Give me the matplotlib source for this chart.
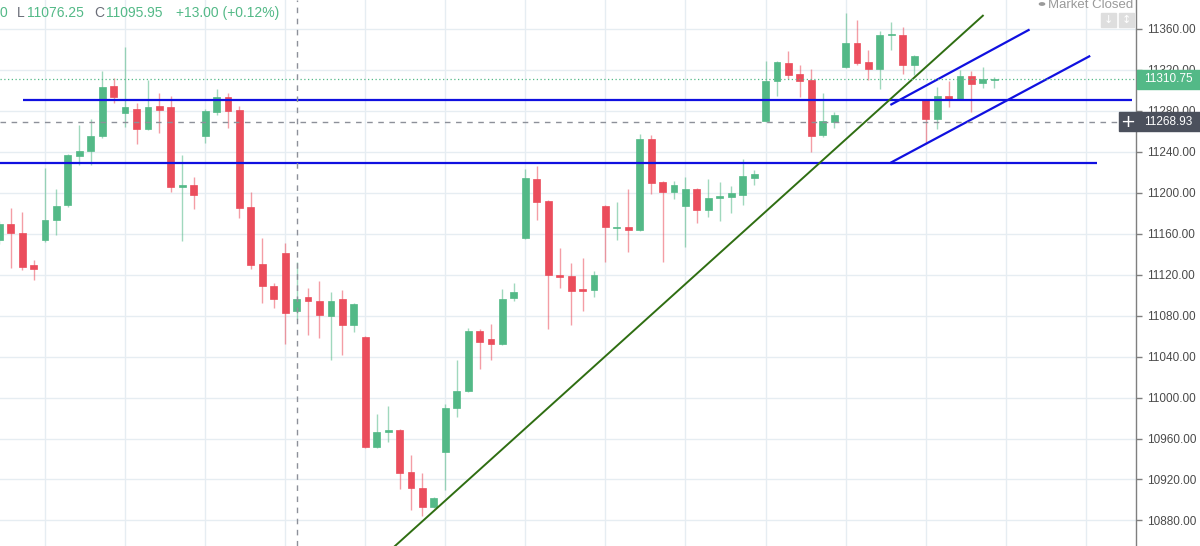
import matplotlib
matplotlib.use('Agg')
import matplotlib.pyplot as plt
from matplotlib.patches import Rectangle, Circle

# ---------------- data ----------------
opens = [11154, 11169, 11161, 11129, 11154, 11173, 11188, 11236, 11241, 11255,
         11304, 11278, 11282, 11262, 11284, 11283, 11205, 11207, 11255, 11279,
         11293, 11281, 11186, 11130, 11109, 11141, 11084, 11098, 11094, 11080,
         11096, 11071, 11059, 10952, 10966, 10968, 10927, 10912, 10893, 10947,
         10990, 11006, 11065, 11057, 11052, 11097, 11156, 11213, 11192, 11120,
         11119, 11106, 11105, 11187, 11165, 11166, 11163, 11252, 11210, 11201,
         11187, 11203, 11183, 11195, 11196, 11198, 11214, 11270, 11309, 11326,
         11316, 11310, 11256, 11269, 11323, 11346, 11327, 11321, 11354, 11354,
         11324, 11290, 11272, 11294, 11291, 11314, 11307, 11310]
highs = [11172, 11185, 11181, 11134, 11224, 11203, 11238, 11266, 11272, 11319,
         11312, 11342, 11287, 11310, 11297, 11294, 11237, 11215, 11282, 11301,
         11297, 11284, 11201, 11156, 11112, 11151, 11132, 11107, 11114, 11103,
         11105, 11092, 11060, 10984, 10992, 10969, 10944, 10926, 10903, 10994,
         11037, 11068, 11067, 11072, 11106, 11112, 11223, 11226, 11193, 11146,
         11131, 11136, 11123, 11188, 11191, 11203, 11257, 11256, 11211, 11211,
         11215, 11204, 11213, 11210, 11206, 11233, 11222, 11328, 11328, 11338,
         11324, 11321, 11297, 11279, 11375, 11368, 11339, 11358, 11366, 11362,
         11334, 11291, 11303, 11309, 11320, 11319, 11323, 11313]
lows = [11150, 11126, 11124, 11115, 11152, 11159, 11186, 11227, 11227, 11253,
        11287, 11264, 11247, 11261, 11258, 11201, 11153, 11184, 11248, 11276,
        11263, 11175, 11125, 11092, 11087, 11052, 11076.25, 11061, 11058, 11037,
        11041, 11064, 10951, 10951, 10957, 10911, 10890, 10884, 10892, 10910,
        10981, 11005, 11028, 11037, 11051, 11094, 11155, 11173, 11067, 11107,
        11071, 11084, 11098, 11132, 11154, 11142, 11162, 11199, 11132, 11194,
        11147, 11170, 11176, 11172, 11180, 11188, 11207, 11269, 11294, 11311,
        11293, 11240, 11254, 11263, 11322, 11324, 11310, 11301, 11339, 11316,
        11315, 11247, 11262, 11283, 11290, 11279, 11302, 11302]
closes = [11169, 11161, 11127, 11125, 11173, 11187, 11237, 11241, 11255, 11303,
          11293, 11283, 11262, 11283, 11281, 11205, 11207, 11198, 11280, 11293,
          11280, 11185, 11129, 11109, 11096, 11082.95, 11095.95, 11094, 11081, 11094,
          11071, 11091, 10952, 10966, 10968, 10926, 10912, 10893, 10902, 10990,
          11006, 11065, 11054, 11052, 11096, 11103, 11214, 11191, 11120, 11118,
          11104, 11104, 11120, 11166, 11166, 11163, 11252, 11209, 11201, 11207,
          11203, 11183, 11195, 11197, 11200, 11216, 11218, 11309, 11327, 11315,
          11309, 11255, 11270, 11276, 11346, 11326, 11321, 11354, 11355, 11324,
          11333, 11272, 11294, 11290, 11314, 11306, 11311, 11310.75]

y_ticks = [10880, 10920, 10960, 11000, 11040, 11080, 11120, 11160, 11200,
           11240, 11280, 11320, 11360]
last_price = 11310.75
cross_price = 11268.93
cross_index = 26
header_low = "11076.25"
header_close = "11095.95"
header_change = "+13.00 (+0.12%)"

# drawn lines (bar index, price)
hline_upper = ([2.1, 99.0], [11290, 11290])
hline_lower = ([-1.0, 96.0], [11229, 11229])
green_trend = ([34.6, 86.0], [10855.1, 11372.6])
channel_upper = ([78.0, 90.0], [11286, 11358.6])
channel_lower = ([78.0, 95.3], [11229.5, 11332.9])

# ---------------- figure ----------------
W, H = 1200, 546
fig = plt.figure(figsize=(W / 100, H / 100), dpi=100)
fig.patch.set_facecolor('white')
ax = fig.add_axes([0, 0, 1136 / W, 1])
ax.set_xlim(0.065, 99.39)
ax.set_ylim(10855.1, 11387.9)

GREEN = '#53b987'
RED = '#eb4d5c'
GRID = '#e6edf2'

# grid
for xv in range(4, 100, 7):
    ax.axvline(xv, color=GRID, lw=1, zorder=0)
for yv in y_ticks:
    ax.axhline(yv, color=GRID, lw=1, zorder=0)

# candles
xs = list(range(len(opens)))
for i in xs:
    o, h, l, c = opens[i], highs[i], lows[i], closes[i]
    col = GREEN if c >= o else RED
    ax.vlines(i, l, h, color=col, lw=1, alpha=0.55, zorder=2)
    bot = min(o, c)
    hgt = max(abs(c - o), 1.2)
    ax.bar(i, hgt, bottom=bot, width=0.6, color=col, edgecolor=col,
           linewidth=0.5, zorder=3)

# drawn trend lines
ax.plot(*hline_upper, color='#1010e0', lw=1.6, zorder=4, solid_capstyle='butt')
ax.plot(*hline_lower, color='#1010e0', lw=1.6, zorder=4, solid_capstyle='butt')
ax.plot(*channel_upper, color='#1010e0', lw=1.6, zorder=4)
ax.plot(*channel_lower, color='#1010e0', lw=1.6, zorder=4)
ax.plot(*green_trend, color='#2f6e12', lw=1.4, zorder=4)

# price line and crosshair
ax.axhline(last_price, color=GREEN, lw=0.9, ls=(0, (1, 2)), zorder=5)
ax.axhline(cross_price, color='#8d9099', lw=1, ls=(0, (4, 4)), zorder=5)
ax.axvline(cross_index, color='#8d9099', lw=1, ls=(0, (4, 4)), zorder=5)

# axes styling
for s in ['top', 'left', 'bottom']:
    ax.spines[s].set_visible(False)
ax.spines['right'].set_color('#7f7f7f')
ax.spines['right'].set_linewidth(1)
ax.set_xticks([])
ax.yaxis.tick_right()
ax.set_yticks(y_ticks)
ax.set_yticklabels([f"{v:.2f}" for v in y_ticks])
ax.tick_params(axis='y', direction='out', length=4, width=1, color='#7f7f7f',
               labelcolor='#4a4a4a', labelsize=8.5, pad=4)
for lab in ax.get_yticklabels():
    lab.set_family('Liberation Sans')


def px(x, y):
    return x / W, 1 - y / H


def price_to_y(p):
    return 28.6 + (11360 - p) * 1.0248


# price label boxes
def price_box(y_center, color, text):
    fig.add_artist(Rectangle(px(1137, y_center + 9.5), 63 / W, 19 / H,
                             transform=fig.transFigure, color=color, zorder=10))
    fig.text(*px(1168, y_center), text, color='white', ha='center', va='center',
             fontsize=8.5, family='Liberation Sans', zorder=11)


price_box(price_to_y(last_price), GREEN, f"{last_price:.2f}")
price_box(price_to_y(cross_price), '#4b505c', f"{cross_price:.2f}")
yc = price_to_y(cross_price)
fig.add_artist(Rectangle(px(1119, yc + 9.5), 18 / W, 19 / H,
                         transform=fig.transFigure, color='#4b505c', zorder=10))
fig.text(*px(1128, yc), '+', color='white', ha='center', va='center',
         fontsize=13, family='DejaVu Sans', zorder=11)

# header legend
hdr = dict(fontsize=10, family='Liberation Sans', va='baseline', zorder=12)
fig.text(*px(-1, 17), '0', color=GREEN, **hdr)
fig.text(*px(17, 17), 'L', color='#6a6d78', **hdr)
fig.text(*px(27, 17), header_low, color=GREEN, **hdr)
fig.text(*px(94, 17), 'C', color='#6a6d78', **hdr)
fig.text(*px(106, 17), header_close, color=GREEN, **hdr)
fig.text(*px(176, 17), header_change, color=GREEN, **hdr)

# market closed
fig.add_artist(Circle(px(1042, 4), 2.6 / W, transform=fig.transFigure,
                      color='#9a9a9a', zorder=12))
fig.text(*px(1048, 8), 'Market Closed', color='#9a9a9a', fontsize=9.5,
         family='Liberation Sans', va='baseline', zorder=12)
for bx, sym in [(1101, '\u2193'), (1119, '\u2195')]:
    fig.add_artist(Rectangle(px(bx, 27), 15 / W, 14 / H,
                             transform=fig.transFigure, color='#dedede', zorder=12))
    fig.text(*px(bx + 7.5, 20), sym, color='white', ha='center', va='center',
             fontsize=8, family='DejaVu Sans', zorder=13)

fig.savefig('out.png', dpi=100, facecolor='white')
